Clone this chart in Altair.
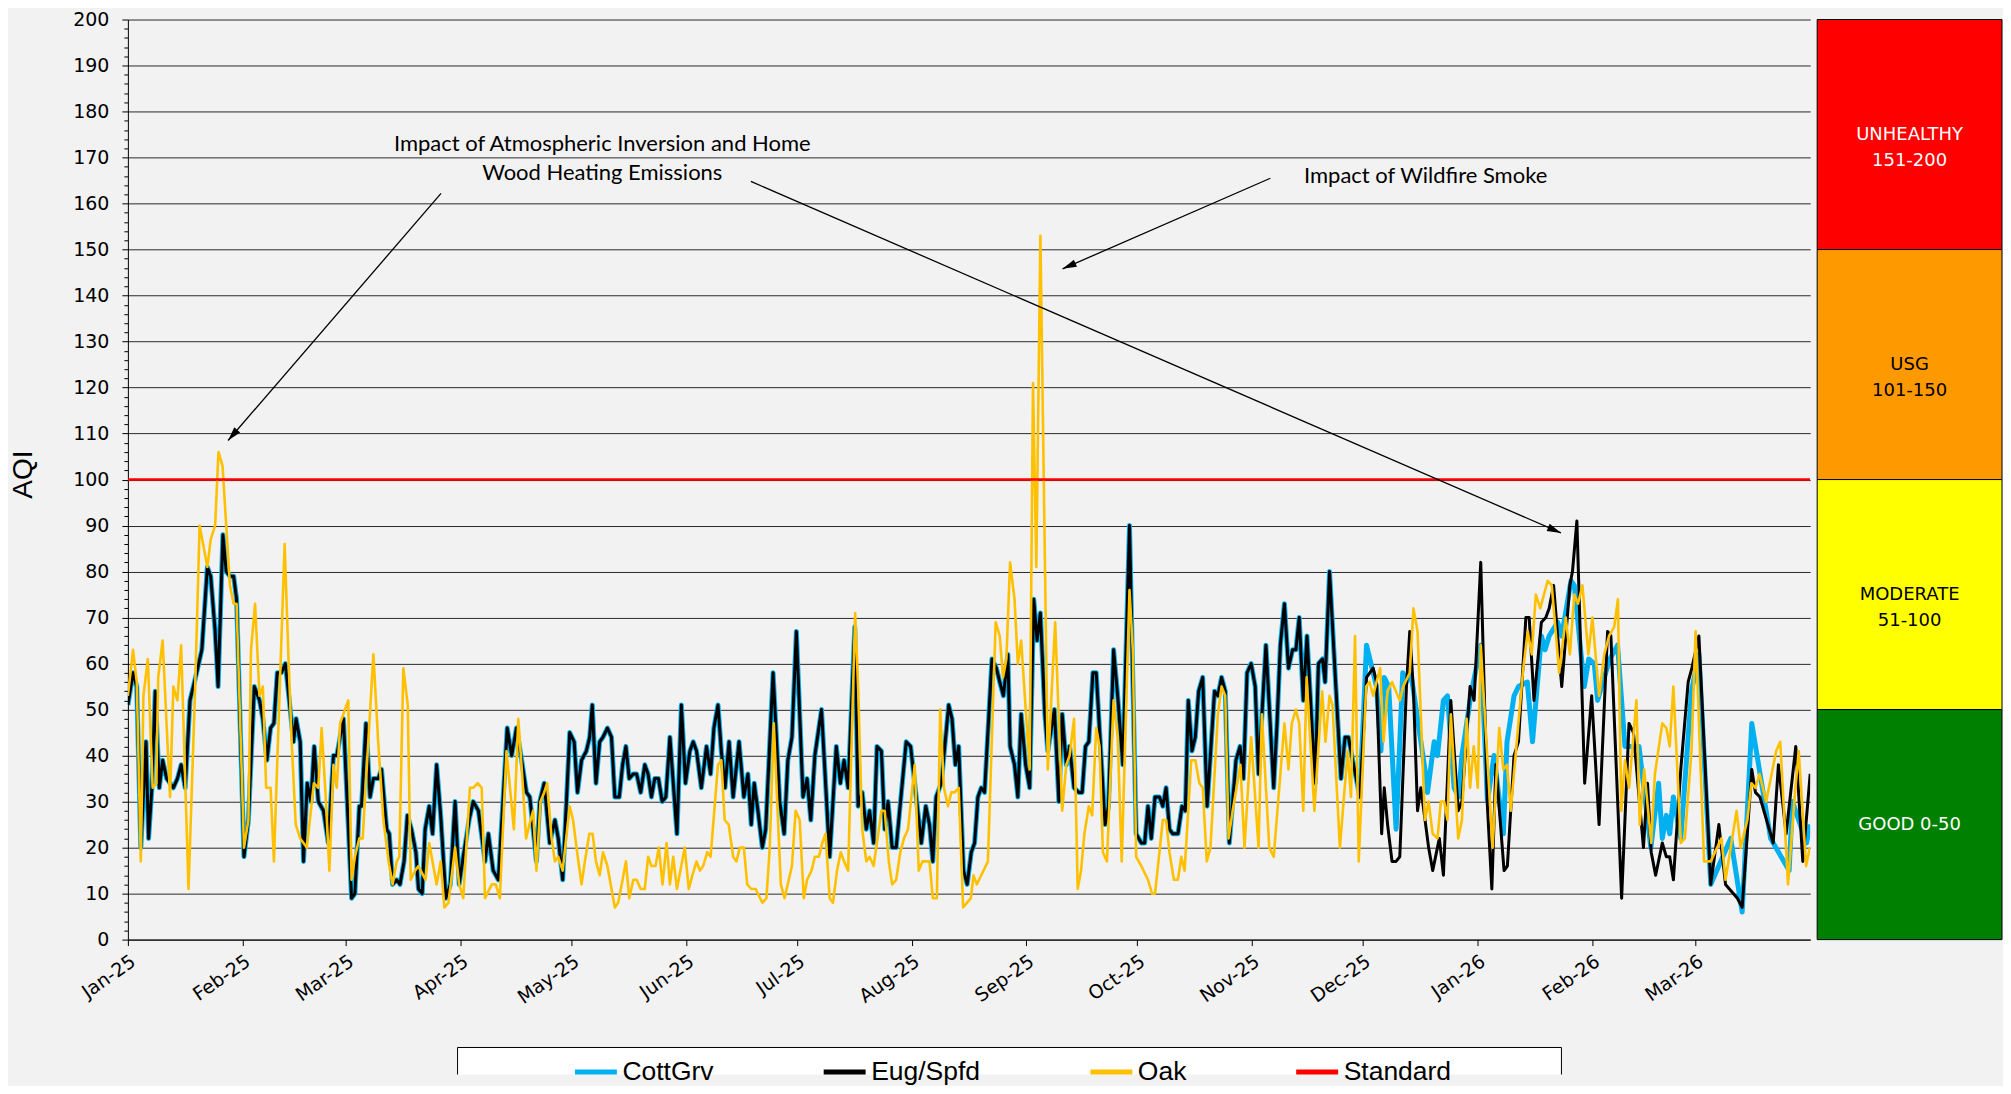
import math
import altair as alt
import pandas as pd

# ---------------- data ----------------
MONTH_DAYS = [0, 31, 59, 90, 120, 151, 181, 212, 243, 273, 304, 334, 365, 396, 424]
MONTH_LABELS = ["Jan-25", "Feb-25", "Mar-25", "Apr-25", "May-25", "Jun-25", "Jul-25",
                "Aug-25", "Sep-25", "Oct-25", "Nov-25", "Dec-25", "Jan-26", "Feb-26", "Mar-26"]
X_END = 455

SERIES = ["CottGrv", "Eug/Spfd", "Oak", "Standard"]
COLORS = ["#00B0F0", "#000000", "#FFC000", "#FF0000"]

# day offset from 1 Jan 2025, AQI
EUG_POINTS = [
    (0, 51), (1.4, 58), (2.4, 55), (3.5, 20), (4.9, 43), (5.6, 22), (6.5, 33), (7.4, 54), (8.5, 33), (9.4, 39),
    (10.5, 35), (12.3, 33), (13.4, 35), (14.4, 38), (15.5, 33), (16.8, 52), (18.6, 58), (20, 63), (21.5, 81),
    (22.4, 79), (23.6, 67), (24.4, 55), (25.7, 88), (26.6, 80), (27.6, 79), (28.6, 79), (29.4, 74), (31.4, 18),
    (32.6, 26), (34.2, 55), (35.6, 52), (36.5, 48), (37.6, 39), (38.6, 46), (39.5, 47), (40.4, 58), (41.5, 58),
    (42.6, 60), (44.8, 43), (45.5, 48), (46.6, 43), (47.5, 17), (48.5, 34), (49.5, 30), (50.4, 42), (51.5, 30),
    (52.9, 28), (54.2, 21), (55.6, 40), (56.5, 40), (58.3, 48), (60.5, 9), (61.4, 10), (62.6, 29), (63.2, 29),
    (64.4, 47), (65.5, 31), (66.4, 35), (67.7, 35), (68.6, 37), (70, 24), (70.7, 23), (71.6, 12), (72.7, 13),
    (73.6, 12), (74.7, 17), (75.6, 27), (76.7, 24), (77.9, 19), (78.6, 11), (79.6, 10), (80.4, 24), (81.5, 29),
    (82.4, 23), (83.5, 38), (84.6, 27), (86, 9), (87.2, 12), (88.5, 30), (89.6, 12), (90.7, 18), (92.3, 26),
    (93.4, 30), (94.8, 28), (96.6, 17), (97.5, 23), (98.8, 15), (100.2, 13), (102.6, 46), (103.8, 40),
    (105.1, 46), (106.5, 39), (107.8, 32), (108.7, 31), (110.5, 17), (111.4, 30), (112.6, 34), (114.1, 21),
    (115.5, 26), (116.4, 22), (117.6, 13), (119.5, 45), (120.7, 43), (121.6, 32), (122.7, 39), (124, 41),
    (124.9, 44), (125.6, 51), (126.6, 34), (127.6, 43), (128.5, 44), (129.7, 46), (130.8, 44), (131.7, 31),
    (132.9, 31), (133.8, 38), (134.7, 42), (135.6, 35), (136.7, 36), (137.6, 36), (138.7, 32), (139.8, 38),
    (140.7, 36), (141.6, 31), (142.5, 35), (143.5, 35), (144.5, 30), (145.5, 31), (146.6, 44), (148.5, 23),
    (149.7, 51), (150.8, 34), (152, 41), (152.9, 43), (153.8, 41), (155.1, 33), (156.5, 42), (157.6, 36),
    (158.5, 46), (159.6, 51), (160.5, 41), (161.5, 33), (162.6, 43), (163.7, 31), (165.3, 43), (166.6, 31),
    (167.7, 36), (168.6, 25), (169.4, 34), (170.4, 28), (171.6, 20), (172.5, 24), (174.5, 58), (176.3, 30),
    (177.5, 23), (178.5, 39), (179.6, 44), (180.8, 67), (182.6, 31), (183.7, 35), (184.7, 26), (185.8, 40),
    (187.6, 50), (189.8, 18), (191.6, 42), (192.7, 34), (193.7, 39), (194.8, 33), (196.6, 68), (197.5, 29),
    (198.6, 32), (199.7, 24), (200.6, 28), (201.7, 21), (202.6, 42), (203.8, 41), (204.7, 24), (205.6, 30),
    (206.7, 20), (207.8, 20), (210.5, 43), (211.7, 42), (214.6, 21), (215.8, 29), (216.8, 25), (217.7, 17),
    (218.6, 31), (220, 34), (222, 51), (222.9, 48), (223.8, 38), (224.7, 42), (226, 15), (227, 12), (228.1, 19),
    (229, 21), (229.9, 31), (230.8, 33), (231.7, 32), (233.7, 61), (234.9, 59), (235.8, 56), (236.8, 53),
    (238, 62), (238.6, 42), (239.8, 38), (240.7, 31), (241.6, 49), (242.8, 38), (243.9, 33), (245, 74),
    (245.9, 65), (246.8, 71), (248, 49), (248.8, 41), (250.6, 50), (251.8, 30), (252.7, 49), (253.8, 38),
    (254.7, 42), (255.9, 33), (257.2, 32), (258.1, 32), (259, 42), (259.9, 43), (261, 58), (261.9, 58),
    (264.3, 25), (265.2, 29), (266.6, 63), (267.7, 53), (269.1, 38), (270.9, 90), (272.7, 23), (274.1, 21),
    (275, 21), (275.9, 29), (276.8, 22), (277.8, 31), (279, 31), (279.9, 29), (280.8, 33), (281.7, 24),
    (282.6, 23), (284, 23), (285.1, 29), (286, 28), (286.8, 52), (287.8, 41), (288.7, 44), (289.6, 54),
    (290.7, 57), (291.9, 29), (293.9, 54), (294.8, 53), (295.8, 57), (296.8, 54), (297.9, 21), (299.7, 39),
    (300.8, 42), (301.7, 35), (302.7, 58), (303.8, 60), (304.9, 55), (305.8, 36), (307.8, 64), (309.9, 33),
    (310.8, 47), (311.7, 64), (312.8, 73), (313.9, 59), (315, 63), (315.9, 63), (316.8, 70), (317.9, 52),
    (318.9, 66), (321.1, 34), (322, 60), (323.1, 61), (323.8, 56), (325, 80), (326.5, 58), (328.1, 35),
    (329.2, 44), (330.1, 44), (331.5, 38), (333.2, 31), (335, 57), (336.8, 59), (337.7, 56), (339.1, 23),
    (339.8, 33), (340.7, 25), (341.9, 17), (343, 17), (344, 18), (345.8, 55), (346.7, 67), (347.7, 54),
    (348.8, 28), (349.7, 33), (351.8, 20), (352.9, 15), (354.7, 22), (355.8, 14), (357.8, 52), (359.8, 28),
    (360.8, 30), (363, 55), (364.1, 52), (365.9, 82), (367.7, 29), (368.9, 11), (370, 38), (372.2, 15),
    (373.1, 16), (374.9, 40), (376.1, 43), (378.1, 70), (379, 70), (380.3, 52), (382.3, 69), (383.5, 70),
    (384.4, 72), (385.6, 77), (387.8, 55), (390, 77), (390.7, 80), (391.9, 91), (394, 34), (395.9, 53),
    (397.9, 25), (400.2, 67), (401.1, 66), (404, 9), (406, 47), (407.2, 45), (409.9, 20), (411, 34), (412, 19),
    (413.2, 14), (415, 21), (416.1, 18), (417, 18), (418, 13), (420, 37), (422, 56), (423, 59), (424.9, 66),
    (428.1, 12), (430.3, 25), (432.1, 12), (435.3, 9), (436.6, 7), (439.2, 37), (440.2, 32), (441.4, 31),
    (445, 21), (446.4, 38), (448.5, 23), (451.1, 42), (453, 17), (455, 36),
]

OAK_POINTS = [
    (0, 53), (1.4, 63), (2.4, 56), (3.5, 17), (4.2, 53), (5.4, 61), (6.7, 33), (7.7, 34), (8.2, 57), (9.4, 65),
    (11.4, 31), (12.3, 55), (13.4, 52), (14.4, 64), (16.4, 11), (18.2, 55), (19.4, 90), (21.5, 81), (22.4, 87),
    (23.6, 90), (24.5, 106), (25.6, 103), (26.6, 90), (27.6, 77), (28.6, 73), (29.4, 73), (31.4, 20),
    (32.6, 26), (33.3, 63), (34.4, 73), (35.6, 53), (36.5, 55), (37.4, 33), (38.6, 33), (39.5, 17), (41.3, 60),
    (42.4, 86), (43.4, 62), (44.3, 43), (45.4, 25), (46.6, 22), (48.4, 20), (50.3, 34), (51.5, 33), (52.4, 46),
    (53.5, 31), (54.5, 15), (55.6, 38), (56.5, 33), (57.4, 47), (59.6, 52), (60.5, 13), (61.4, 18), (62.6, 22),
    (63.5, 22), (66.4, 62), (67.7, 43), (69.1, 26), (70.5, 17), (71.6, 12), (72.7, 17), (73.4, 18), (74.5, 59),
    (75.7, 51), (76.5, 13), (77.7, 15), (78.6, 16), (80.5, 13), (81.5, 21), (83.5, 12), (84.6, 17), (85.6, 7),
    (86.7, 8), (88.5, 20), (89.6, 12), (90.7, 9), (92.5, 33), (93.4, 33), (94.6, 34), (95.7, 33), (96.6, 9),
    (98.4, 12), (99.5, 12), (100.6, 9), (102.4, 41), (104.4, 24), (105.6, 48), (106.7, 35), (107.7, 22),
    (108.6, 25), (109.6, 28), (110.5, 15), (111.6, 30), (112.6, 32), (113.4, 34), (114.6, 22), (115.5, 17),
    (116.4, 18), (117.6, 15), (119.5, 29), (120.4, 26), (121.5, 19), (122.7, 12), (123.6, 17), (124.8, 23),
    (125.7, 23), (126.6, 17), (127.6, 14), (128.5, 19), (129.7, 16), (130.8, 11), (131.7, 7), (132.6, 8),
    (133.8, 13), (134.7, 17), (135.6, 9), (136.7, 13), (137.6, 13), (138.7, 11), (139.8, 11), (140.7, 18),
    (141.6, 16), (142.7, 16), (143.6, 20), (144.6, 12), (145.7, 21), (146.6, 12), (147.5, 18), (148.5, 11),
    (150.6, 20), (151.7, 11), (152.7, 14), (153.8, 17), (154.7, 15), (155.6, 16), (156.7, 19), (157.6, 18),
    (158.7, 29), (159.6, 38), (160.5, 39), (161.4, 26), (162.5, 25), (163.7, 18), (164.6, 17), (165.5, 20),
    (166.6, 20), (167.5, 12), (168.6, 11), (169.8, 11), (171.6, 8), (172.7, 9), (173.6, 20), (174.7, 47),
    (175.6, 30), (176.6, 12), (177.6, 9), (179.6, 16), (180.6, 28), (181.7, 26), (182.8, 9), (183.7, 13),
    (184.9, 15), (185.8, 18), (186.9, 18), (187.8, 21), (188.7, 23), (189.8, 9), (190.7, 8), (191.8, 15),
    (192.8, 19), (193.7, 17), (194.8, 15), (196.7, 71), (197.5, 55), (198.6, 24), (199.7, 17), (200.6, 18),
    (201.7, 16), (203.8, 28), (204.7, 28), (205.8, 17), (206.7, 12), (207.8, 13), (208.9, 19), (209.9, 22),
    (211, 24), (212.8, 38), (213.9, 15), (214.9, 17), (216.8, 17), (217.7, 9), (218.8, 9), (219.7, 50),
    (220.7, 33), (221.8, 29), (222.7, 32), (223.6, 32), (224.7, 33), (225.9, 7), (228, 9), (228.7, 14),
    (229.6, 12), (230.8, 14), (232.6, 17), (234.7, 69), (235.8, 66), (236.7, 57), (237.6, 61), (238.6, 82),
    (239.8, 74), (240.7, 60), (241.6, 65), (243.9, 37), (244.8, 121), (245.7, 81), (246.8, 153), (248.8, 37),
    (250.8, 69), (252.7, 28), (253.8, 38), (254.7, 40), (255.9, 48), (256.9, 11), (257.8, 15), (258.7, 23),
    (259.9, 29), (260.8, 27), (261.9, 46), (262.8, 42), (263.7, 19), (264.8, 17), (266.6, 52), (267.7, 44),
    (268.8, 17), (270.9, 76), (271.8, 63), (272.7, 18), (274.1, 16), (275.9, 13), (277, 10), (277.8, 10),
    (279, 19), (279.9, 26), (280.8, 26), (281.7, 19), (282.9, 13), (284, 13), (284.9, 18), (285.8, 15),
    (287.6, 39), (288.7, 39), (289.8, 34), (290.7, 33), (291.8, 17), (292.8, 20), (294.8, 49), (295.8, 55),
    (296.8, 53), (297.7, 22), (298.8, 28), (300.9, 38), (302, 20), (303.8, 44), (305.8, 20), (306.7, 49),
    (308.7, 20), (309.9, 18), (312.8, 47), (313.9, 37), (314.8, 47), (315.9, 50), (316.8, 47), (317.9, 28),
    (318.8, 57), (320.9, 28), (323, 54), (323.9, 43), (325, 53), (325.8, 51), (327.8, 20), (329.9, 41),
    (330.8, 31), (331.9, 66), (332.9, 17), (334.9, 55), (335.8, 56), (336.8, 53), (337.7, 56), (338.7, 59),
    (339.6, 43), (340.7, 54), (341.9, 56), (344, 52), (344.9, 55), (346.7, 58), (347.7, 72), (348.8, 67),
    (350.8, 26), (351.8, 30), (352.9, 23), (354.2, 22), (355.1, 30), (356, 30), (356.9, 26), (357.8, 49),
    (359.8, 22), (360.8, 26), (362.1, 48), (363, 33), (364, 42), (365.1, 33), (365.9, 64), (369.1, 20),
    (370.9, 46), (372, 37), (373, 38), (374, 28), (377.4, 59), (378.6, 67), (379.7, 62), (380.8, 75), (382, 72),
    (384, 78), (385.1, 77), (387.1, 58), (388.9, 70), (390, 62), (391.2, 75), (392.2, 73), (393.4, 77),
    (395, 62), (396.1, 70), (397.9, 53), (399.3, 62), (400.6, 66), (402, 68), (403, 74), (403.9, 28),
    (404.9, 39), (406, 33), (408, 52), (408.9, 25), (410.1, 37), (412, 21), (413, 36), (415, 47), (416.1, 46),
    (417, 42), (418, 55), (420, 21), (421.1, 22), (422.9, 41), (424, 67), (426.3, 17), (428.1, 17), (431, 22),
    (432.1, 13), (435.1, 28), (436.2, 20), (438, 26), (439.1, 34), (440.2, 33), (441.3, 36), (443.1, 30),
    (445.8, 41), (446.9, 43), (449, 12), (451, 33), (451.9, 41), (453.9, 16), (454.9, 20),
]

# Cottage Grove: traced under Eug/Spfd until late Nov, then its own trace
COTT_SPLIT_DAY = 333.2
COTT_OWN_POINTS = [
    (335, 64), (336.8, 58), (337.7, 55), (338.9, 41), (339.8, 57), (341, 55), (343, 24), (344.8, 58),
    (345.8, 56), (347, 58), (350.8, 37), (351.5, 32), (353.3, 43), (354.2, 40), (355.8, 52), (356.9, 53),
    (358.7, 33), (359.9, 31), (360.8, 40), (363.2, 53), (365.9, 64), (367.7, 30), (369.5, 40), (372, 23),
    (373, 43), (374.9, 53), (376.1, 55), (378.5, 56), (379.9, 43), (382.3, 66), (383.3, 63), (384.4, 66),
    (386.7, 69), (387.8, 66), (390.3, 78), (391.2, 77), (393.9, 55), (395.1, 61), (396.6, 60), (397.5, 52),
    (400.8, 61), (402.9, 64), (404.9, 42), (408.7, 42), (411.9, 20), (414, 34), (415, 22), (416.1, 27),
    (417, 23), (418, 31), (420, 22), (422.9, 54), (424.9, 62), (428.1, 12), (433.5, 22), (436.6, 6),
    (439.2, 47), (444.3, 22), (449.3, 15), (450.2, 30), (454, 21), (455, 25),
]
STANDARD_POINTS = [(0, 100), (455, 100)]

CATEGORY_LO = [150, 100, 50, 0]
CATEGORY_HI = [200, 150, 100, 50]
CATEGORY_LABEL = ["UNHEALTHY\n151-200", "USG\n101-150", "MODERATE\n51-100", "GOOD 0-50"]
CATEGORY_FILL = ["#FF0000", "#FF9900", "#FFFF00", "#008000"]
CATEGORY_TEXT = ["#FFFFFF", "#000000", "#000000", "#FFFFFF"]

NOTE_TEXT = ["Impact of Atmospheric Inversion and Home", "Wood Heating Emissions", "Impact of Wildfire Smoke"]
NOTE_DAY = [128.3, 128.3, 351.0]
NOTE_AQI = [173.0, 166.6, 165.9]
ARROW_FROM = [(84.7, 162.2), (168.5, 164.8), (309.0, 165.5)]
ARROW_TO = [(27.1, 108.5), (387.6, 88.4), (252.8, 145.8)]

# ---------------- layout ----------------
W, H = 1684, 921
PANEL_W = 185
BG = "#F2F2F2"


def frame(points, name):
    return pd.DataFrame({"day": [p[0] for p in points], "aqi": [p[1] for p in points], "series": name})


eug_df = frame(EUG_POINTS, "Eug/Spfd")
oak_df = frame(OAK_POINTS, "Oak")
cott_df = frame([p for p in EUG_POINTS if p[0] <= COTT_SPLIT_DAY] + COTT_OWN_POINTS, "CottGrv")
std_df = frame(STANDARD_POINTS, "Standard")

xscale = alt.Scale(domain=[0, X_END], nice=False, zero=False)
yscale = alt.Scale(domain=[0, 200], nice=False)

label_expr = "[" + ",".join(f"'{m}'" for m in MONTH_LABELS) + "][indexof([" + \
    ",".join(str(d) for d in MONTH_DAYS) + "], datum.value)]"

xaxis = alt.Axis(values=MONTH_DAYS, labelExpr=label_expr, labelAngle=325, labelAlign="right",
                 labelBaseline="top", labelFont="DejaVu Sans", labelFontSize=19, labelColor="black",
                 labelPadding=6, labelOverlap=False, tickSize=6, tickColor="black", domainColor="black",
                 domainWidth=1, grid=False, title=None)

yaxis = alt.Axis(values=list(range(0, 201, 2)),
                 labelExpr="datum.value % 10 === 0 ? datum.label : ''",
                 labelFont="DejaVu Sans", labelFontSize=19, labelColor="black", labelPadding=13,
                 labelOverlap=False, labelFlush=False,
                 tickSize={"condition": {"test": "datum.value % 10 === 0", "value": 6}, "value": 4},
                 tickColor="black", domainColor="black", domainWidth=1,
                 grid=True, gridColor="#2a2a2a", gridWidth=1,
                 gridOpacity={"condition": {"test": "datum.value % 10 === 0", "value": 1}, "value": 0},
                 title="AQI", titleFont="Liberation Sans", titleFontSize=28, titleFontWeight="normal",
                 titleColor="black", titleAngle=270, titleX=-104, titleY=455, titleAlign="center",
                 titleBaseline="middle")

legend = alt.Legend(orient="none", legendX=445, legendY=1030, direction="horizontal", title=None,
                    symbolType="stroke", symbolStrokeWidth=5, symbolSize=1764,
                    labelFont="Liberation Sans", labelFontSize=26.5, labelColor="black", labelOffset=3,
                    columnPadding=99, padding=0)

color = alt.Color("series:N", scale=alt.Scale(domain=SERIES, range=COLORS), legend=legend)


def line_layer(df, width):
    return alt.Chart(df).mark_line(strokeWidth=width, strokeJoin="round", clip=True).encode(
        x=alt.X("day:Q", scale=xscale, axis=xaxis),
        y=alt.Y("aqi:Q", scale=yscale, axis=yaxis),
        color=color,
    )


notes_df = pd.DataFrame({"day": NOTE_DAY, "aqi": NOTE_AQI, "text": NOTE_TEXT})
notes = alt.Chart(notes_df).mark_text(font="Lato", fontSize=22, color="black", align="center",
                                      baseline="middle").encode(
    x=alt.X("day:Q", scale=xscale, axis=xaxis), y=alt.Y("aqi:Q", scale=yscale, axis=yaxis), text="text:N")

px_day = W / X_END
px_aqi = H / 200.0
arrow_rows = []
for (d0, a0), (d1, a1) in zip(ARROW_FROM, ARROW_TO):
    dx = (d1 - d0) * px_day
    dy = -(a1 - a0) * px_aqi
    ang = math.degrees(math.atan2(dx, -dy)) % 360
    arrow_rows.append({"day": d0, "aqi": a0, "day2": d1, "aqi2": a1, "angle": ang})
arrows_df = pd.DataFrame(arrow_rows)

arrow_lines = alt.Chart(arrows_df).mark_rule(color="black", strokeWidth=1.3).encode(
    x=alt.X("day:Q", scale=xscale, axis=xaxis), y=alt.Y("aqi:Q", scale=yscale, axis=yaxis),
    x2="day2:Q", y2="aqi2:Q")
arrow_heads = alt.Chart(arrows_df).mark_point(shape="M0,0L-0.55,2L0.55,2Z", filled=True, color="black",
                                              size=196, opacity=1).encode(
    x=alt.X("day2:Q", scale=xscale, axis=xaxis), y=alt.Y("aqi2:Q", scale=yscale, axis=yaxis),
    angle=alt.Angle("angle:Q", scale=None))

# legend frame (white box under the legend, open at the bottom edge of the picture)
frame_src = pd.DataFrame({"k": [0]})
BOX_L, BOX_R, BOX_T, BOX_B = 330, 1435, 1029, 1056
legend_fill = alt.Chart(frame_src).mark_rect(fill="white").encode(
    x=alt.value(BOX_L), x2=alt.value(BOX_R), y=alt.value(BOX_T), y2=alt.value(BOX_B))
legend_top = alt.Chart(frame_src).mark_rule(color="black", strokeWidth=1).encode(
    x=alt.value(BOX_L), x2=alt.value(BOX_R), y=alt.value(BOX_T))
legend_left = alt.Chart(frame_src).mark_rule(color="black", strokeWidth=1).encode(
    x=alt.value(BOX_L), y=alt.value(BOX_T), y2=alt.value(BOX_B))
legend_right = alt.Chart(frame_src).mark_rule(color="black", strokeWidth=1).encode(
    x=alt.value(BOX_R), y=alt.value(BOX_T), y2=alt.value(BOX_B))

main = alt.layer(
    legend_fill, legend_top, legend_left, legend_right,
    line_layer(cott_df, 5), line_layer(eug_df, 3), line_layer(oak_df, 2.6), line_layer(std_df, 2.6),
    arrow_lines, arrow_heads, notes,
).properties(width=W, height=H)

panel_df = pd.DataFrame({"lo": CATEGORY_LO, "hi": CATEGORY_HI, "label": CATEGORY_LABEL,
                         "fill": CATEGORY_FILL, "tcolor": CATEGORY_TEXT})
pscale_x = alt.Scale(domain=[0, 1])
panel_rect = alt.Chart(panel_df).mark_rect(stroke="black", strokeWidth=1).encode(
    x=alt.XDatum(0, scale=pscale_x, axis=None), x2=alt.X2Datum(1),
    y=alt.Y("lo:Q", scale=yscale, axis=None), y2="hi:Q",
    fill=alt.Fill("fill:N", scale=None))
panel_text = alt.Chart(panel_df).transform_calculate(mid="(datum.lo + datum.hi) / 2").mark_text(
    font="DejaVu Sans", fontSize=18, lineBreak="\n", lineHeight=26, align="center", baseline="middle").encode(
    x=alt.XDatum(0.5, scale=pscale_x, axis=None),
    y=alt.Y("mid:Q", scale=yscale, axis=None),
    text="label:N",
    color=alt.Color("tcolor:N", scale=None))
panel = alt.layer(panel_rect, panel_text).properties(width=PANEL_W, height=H)

chart = alt.hconcat(main, panel, spacing=6).resolve_legend(color="independent").resolve_scale(
    color="independent").properties(
    background=BG, padding={"left": 2, "top": 2, "right": 0, "bottom": 0}).configure_view(stroke=None)

chart.save("out.html", embed_options={"renderer": "svg", "actions": False})
